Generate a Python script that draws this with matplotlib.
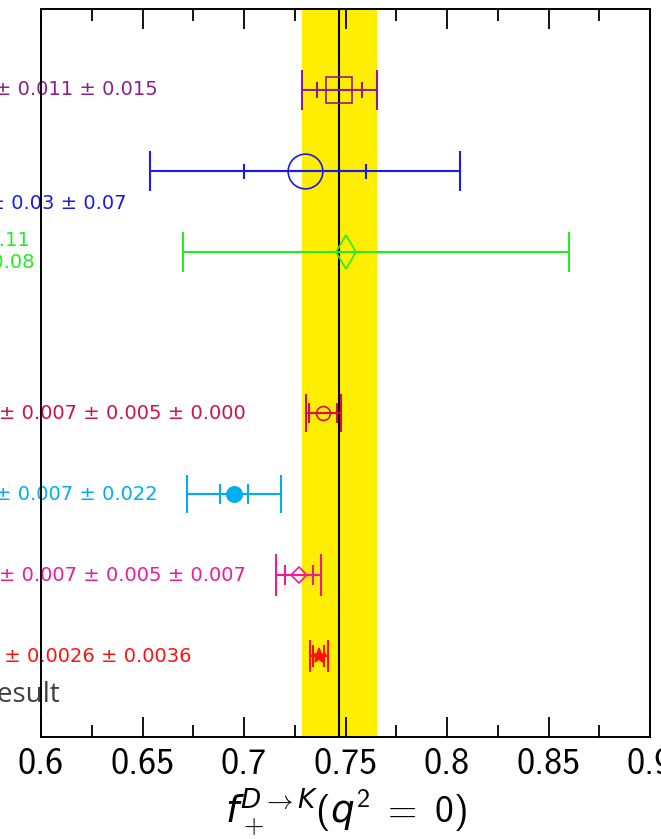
import matplotlib
matplotlib.use("Agg")
import matplotlib.pyplot as plt
import numpy as np
from matplotlib.ticker import MultipleLocator

# ---------------------------------------------------------------------------
# Data
# ---------------------------------------------------------------------------
values    = [0.747, 0.73, 0.75, 0.739, 0.695, 0.727, 0.7368]
stat_err  = [0.011, 0.03, None, 0.007, 0.007, 0.007, 0.0026]
err_lo    = [0.0186, 0.0762, 0.08, 0.0086, 0.0231, 0.0111, 0.0044]
err_hi    = [0.0186, 0.0762, 0.11, 0.0086, 0.0231, 0.0111, 0.0044]
slots     = [7, 6, 5, 3, 2, 1, 0]
labels    = [
    "0.747 ± 0.011 ± 0.015",
    "0.73 ± 0.03 ± 0.07",
    None,
    "0.739 ± 0.007 ± 0.005 ± 0.000",
    "0.695 ± 0.007 ± 0.022",
    "0.727 ± 0.007 ± 0.005 ± 0.007",
    "0.7368 ± 0.0026 ± 0.0036",
]
green_up, green_down = "+0.11", "−0.08"

band_center = 0.747
band_err    = 0.0186

# ---------------------------------------------------------------------------
# Styles
# ---------------------------------------------------------------------------
colors  = ["#8B1F8B", "#1A1AF0", "#22EE22", "#D0104A", "#00AEEF", "#EE1A9A", "#FF1010"]
markers = ["s", "o", "d", "o", "o", "D", "*"]
msizes  = [18.5, 25, 17, 10, 11, 8, 11]
filled  = [False, False, False, False, True, False, True]
caps    = [14.4, 14.4, 14.4, 13.7, 14.0, 15.0, 11.5]
icaps   = [5.8, 5.4, 0, 7.2, 7.2, 7.2, 8.0]
label_x = [0.6576, 0.6419, None, 0.7010, 0.6576, 0.7010, 0.6739]
label_y = [7.0, 5.6, None, 3.0, 2.0, 1.0, 0.0]

plt.rcParams.update({
    "mathtext.fontset": "custom",
    "mathtext.rm": "cmss10",
    "mathtext.it": "DejaVu Sans:italic",
    "axes.linewidth": 1.4,
})

fig = plt.figure(figsize=(6.61, 8.39), dpi=100)
ax = fig.add_axes([41 / 661, 102 / 839, 609 / 661, 728 / 839])

ax.axvspan(band_center - band_err, band_center + band_err,
           color="#FFEE00", lw=0, zorder=1)
ax.axvline(band_center, color="black", lw=1.5, zorder=2)

for i in range(len(values)):
    c = colors[i]
    ax.errorbar(values[i], slots[i], xerr=[[err_lo[i]], [err_hi[i]]],
                fmt="none", ecolor=c, elinewidth=1.5, capsize=caps[i],
                capthick=1.5, zorder=3)
    if stat_err[i] is not None:
        ax.errorbar(values[i], slots[i], xerr=stat_err[i], fmt="none",
                    ecolor=c, elinewidth=1.5, capsize=icaps[i],
                    capthick=1.5, zorder=3)
    ax.plot(values[i], slots[i], marker=markers[i], ms=msizes[i],
            mfc=c if filled[i] else "none", mec=c, mew=1.2,
            ls="none", zorder=4)
    if labels[i] is not None:
        ax.text(label_x[i], label_y[i], labels[i], color=c, fontsize=14,
                ha="right", va="center", zorder=2)

ax.text(0.5951, 5.14, green_up, color=colors[2], fontsize=14,
        ha="right", va="center", zorder=2)
ax.text(0.5975, 4.87, green_down, color=colors[2], fontsize=14,
        ha="right", va="center", zorder=2)

ax.text(0.6094, -0.48, "This result", color="#404040", fontsize=20,
        family="Open Sans", ha="right", va="center", zorder=2)

ax.set_xlim(0.6, 0.9)
ax.set_ylim(-1, 8)
ax.set_yticks([])
ax.xaxis.set_major_locator(MultipleLocator(0.05))
ax.xaxis.set_minor_locator(MultipleLocator(0.025))
ax.tick_params(axis="x", which="both", direction="in", top=True,
               width=1.3, pad=8)
ax.tick_params(axis="x", which="major", length=14.4, labelsize=26)
ax.tick_params(axis="x", which="minor", length=8.6)
ax.set_xticklabels([f"{v:g}" for v in np.round(ax.get_xticks(), 3)],
                   family="cmss10")
ax.set_xlabel(r"$f_+^{D\to K}(q^2\;=\;0)$", fontsize=27, labelpad=4)

fig.savefig("out.png", dpi=100)
